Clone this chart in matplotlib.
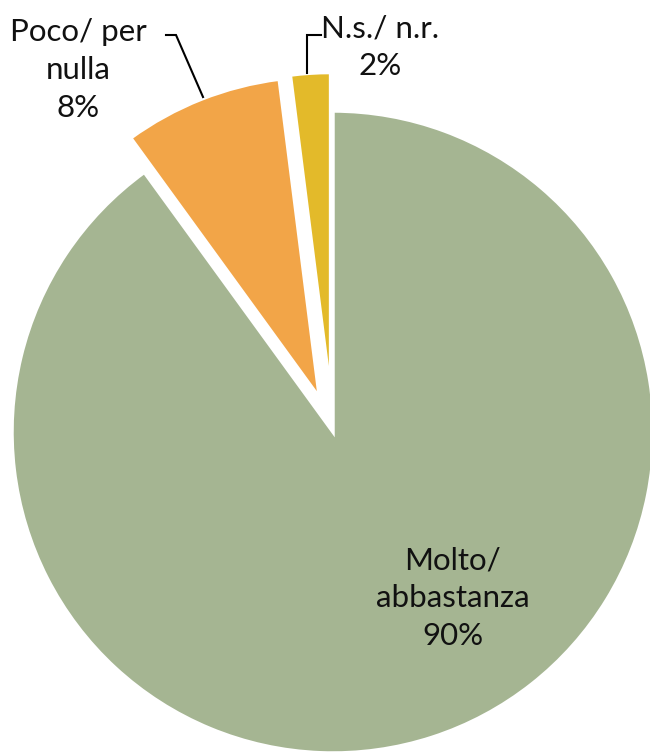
import matplotlib.pyplot as plt

labels = ['Molto/\nabbastanza', 'Poco/ per\nnulla', 'N.s./ n.r.']
values = [90, 8, 2]
colors = ['#A5B592', '#F2A548', '#E3BA2A']
explode = [0, 0.115, 0.12]

plt.rcParams['font.family'] = ['Lato', 'DejaVu Sans']

fig = plt.figure(figsize=(6.5, 7.55), dpi=100)
ax = fig.add_axes([0, 0, 1, 1])

# pie centre and radius in pixels
cx, cy, r = 333, 432, 321


def px(x, y):
    return (x - cx) / r, (cy - y) / r


ax.pie(values, colors=colors, explode=explode, startangle=90, counterclock=False,
       radius=1, wedgeprops=dict(edgecolor='white', linewidth=2.5))

ax.set_xlim(-cx / r, (650 - cx) / r)
ax.set_ylim((cy - 755) / r, cy / r)
ax.set_aspect('auto')
ax.axis('off')

fs = 22.5
ls = 1.42
lbl = [f'{labels[i]}\n{values[i]}%' for i in range(3)]

ax.text(*px(453, 598), lbl[0], ha='center', va='center', fontsize=fs,
        color='#111111', linespacing=ls)
ax.text(*px(78, 70), lbl[1], ha='center', va='center', fontsize=fs,
        color='#111111', linespacing=ls)
ax.text(*px(380, 47), 'N.s./ n.r.\n2%', ha='center', va='center', fontsize=fs,
        color='#111111', linespacing=ls)

# leader lines
xs, ys = zip(px(166, 35), px(176, 35), px(203, 97))
ax.plot(xs, ys, color='black', lw=1.5, solid_joinstyle='miter')
xs, ys = zip(px(321, 35), px(307, 35), px(307, 73))
ax.plot(xs, ys, color='black', lw=1.5, solid_joinstyle='miter')

fig.savefig('out.png', dpi=100)
